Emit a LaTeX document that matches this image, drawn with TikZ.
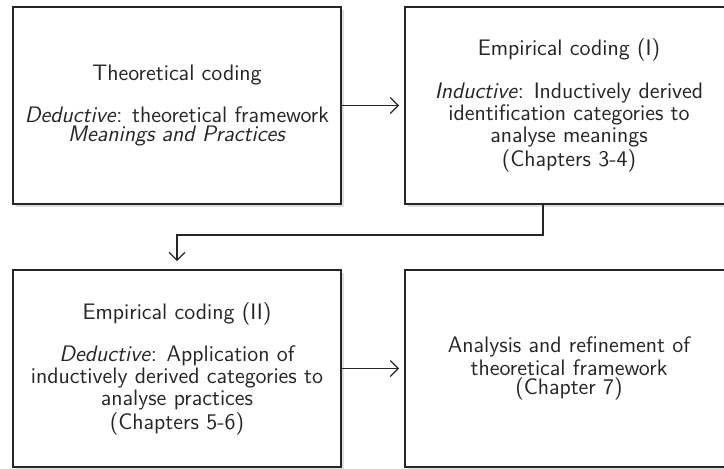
\documentclass[tikz,border=0pt]{standalone}
\usetikzlibrary{arrows.meta,shadows}

\begin{document}
\begin{tikzpicture}[x=0.5pt,y=-0.5pt,
    codebox/.style={shape=rectangle,draw=black!85,line width=0.9pt,fill=white,
      minimum width=164pt,minimum height=98.5pt,align=center,
      font=\sffamily\fontsize{11.2}{9.6}\selectfont,text=black!85,
      drop shadow={shadow xshift=1.3pt,shadow yshift=-1.3pt,opacity=0.25}},
    flow/.style={draw=black!85,line width=0.6pt,-{Straight Barb[length=4pt,width=8pt]}}]
    \useasboundingbox (0,0) rectangle (724,468);

    \node[codebox] (T) at (177,105.5) {Theoretical coding\\[9.6pt]
      \textit{Deductive}: theoretical framework\\
      \textit{Meanings and Practices}};
    \node[codebox] (E1) at (569,105.5) {Empirical coding (I)\\[9.6pt]
      \textit{Inductive}: Inductively derived\\
      identification categories to\\
      analyse meanings\\
      (Chapters 3-4)};

    \node[codebox] (E2) at (177,368.5) {Empirical coding (II)\\[9.6pt]
      \textit{Deductive}: Application of\\
      inductively derived categories to\\
      analyse practices\\
      (Chapters 5-6)};
    \node[codebox] (R) at (569,368.5) {Analysis and refinement of\\
      theoretical framework\\
      (Chapter 7)};

    \coordinate (turn) at (543,235);

    \draw[flow,shorten >=2.5pt] (T) -- (E1);
    \draw[flow,shorten >=4pt] (E1.south -| turn) -- (turn) -| (E2.north);
    \draw[flow,shorten >=2.5pt] (E2) -- (R);
\end{tikzpicture}
\end{document}
